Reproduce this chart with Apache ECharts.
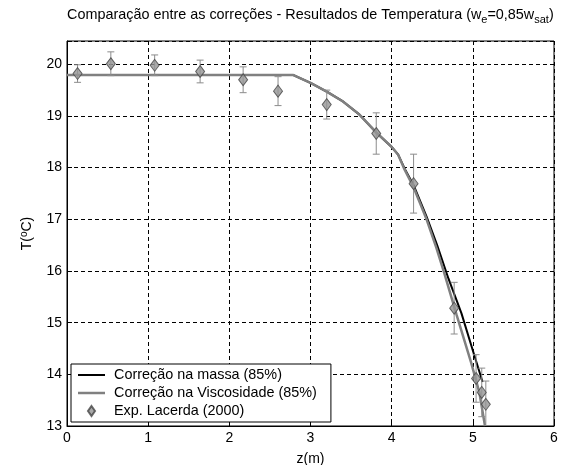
<!DOCTYPE html>
<html>
<head>
<meta charset="utf-8">
<script src="https://cdn.jsdelivr.net/npm/echarts@6/dist/echarts.min.js"></script>
<style>
html,body{margin:0;padding:0;background:#fff;}
#chart{width:570px;height:465px;}
</style>
</head>
<body>
<div id="chart"></div>
<script>
// Simulation curves
var massaX = [0, 2.79, 3.00, 3.20, 3.40, 3.60, 3.81, 4.00, 4.08, 4.16, 4.27, 4.43, 4.56, 4.70, 4.86, 5.00, 5.12];
var massaY = [19.79, 19.79, 19.64, 19.47, 19.28, 19.03, 18.68, 18.40, 18.25, 17.98, 17.66, 17.05, 16.50, 15.85, 15.18, 14.46, 13.85];
var viscX = [0, 2.79, 3.00, 3.20, 3.40, 3.60, 3.81, 4.00, 4.08, 4.16, 4.27, 4.43, 4.55, 4.65, 4.80, 4.98, 5.08, 5.15];
var viscY = [19.79, 19.79, 19.64, 19.47, 19.28, 19.03, 18.68, 18.40, 18.25, 17.96, 17.62, 17.00, 16.45, 15.95, 15.15, 14.22, 13.65, 13.00];
// Experimental data (Lacerda 2000)
var expX = [0.13, 0.54, 1.08, 1.64, 2.17, 2.60, 3.20, 3.81, 4.27, 4.77, 5.04, 5.11, 5.16];
var expY = [19.82, 20.01, 19.98, 19.86, 19.70, 19.48, 19.22, 18.66, 17.69, 15.28, 13.92, 13.65, 13.42];
var expErr = [0.17, 0.23, 0.20, 0.22, 0.25, 0.28, 0.28, 0.40, 0.57, 0.50, 0.46, 0.47, 0.45];
// Axis ticks
var xTicks = [0, 1, 2, 3, 4, 5, 6];
var yTicks = [13, 14, 15, 16, 17, 18, 19, 20];
var legendNames = ['Correção na massa (85%)', 'Correção na Viscosidade (85%)', 'Exp. Lacerda (2000)'];

var FONT = '"Liberation Sans", Arial, sans-serif';
function zip(a, b) { return a.map(function (v, i) { return [v, b[i]]; }); }
var errData = expX.map(function (x, i) { return [x, expY[i] - expErr[i], expY[i] + expErr[i]]; });

var chart = echarts.init(document.getElementById('chart'), null, {renderer: 'canvas'});
var dash = {type: [4, 3], color: '#000', width: 1};
chart.setOption({
  animation: false,
  backgroundColor: '#fff',
  textStyle: {fontFamily: FONT},
  title: {
    text: 'Comparação entre as correções - Resultados de Temperatura (w{sub|e}=0,85w{sub|sat})',
    left: 62, top: 1,
    textStyle: {
      fontFamily: FONT, fontSize: 14.4, fontWeight: 'normal', color: '#000',
      rich: {sub: {fontFamily: FONT, fontSize: 11, color: '#000', verticalAlign: 'bottom', padding: [8, 0, 0, 0]}}
    }
  },
  grid: {left: 67, right: 16, top: 41, bottom: 39, show: true, borderColor: '#000', borderWidth: 1,
    containLabel: false, outerBoundsMode: 'none'},
  legend: {
    orient: 'vertical', left: 71, top: 364,
    backgroundColor: '#fff', borderColor: '#000', borderWidth: 1,
    padding: [4, 14, 4, 7], itemGap: 4, itemWidth: 27, itemHeight: 10,
    textStyle: {fontFamily: FONT, fontSize: 14.4, color: '#000', padding: [0, 0, 0, 4]},
    data: [
      {name: legendNames[0], icon: 'path://M0,0H27V2H0Z'},
      {name: legendNames[1], icon: 'path://M0,0H27V2.5H0Z'},
      {name: legendNames[2], icon: 'path://M3.5,0L7,5L3.5,10L0,5Z'}
    ]
  },
  xAxis: {
    type: 'value', min: xTicks[0], max: xTicks[xTicks.length - 1], interval: 1,
    name: 'z(m)', nameLocation: 'middle', nameGap: 26,
    nameTextStyle: {fontFamily: FONT, fontSize: 14, color: '#000'},
    axisLine: {show: true, onZero: false, lineStyle: {color: '#000', width: 1}},
    axisTick: {show: true, inside: true, length: 5, lineStyle: {color: '#000'}},
    axisLabel: {fontFamily: FONT, fontSize: 14, color: '#000', margin: 5},
    splitLine: {show: true, lineStyle: dash}
  },
  yAxis: {
    type: 'value', min: yTicks[0], max: 20.45, interval: 1,
    name: 'T({sup|o}C)', nameLocation: 'middle', nameGap: 32, nameRotate: 90,
    nameTextStyle: {fontFamily: FONT, fontSize: 14, color: '#000',
      rich: {sup: {fontFamily: FONT, fontSize: 10, color: '#000', verticalAlign: 'top', padding: [0, 0, 6, 0]}}},
    axisLine: {show: true, onZero: false, lineStyle: {color: '#000', width: 1}},
    axisTick: {show: true, inside: true, length: 5, lineStyle: {color: '#000'}},
    axisLabel: {fontFamily: FONT, fontSize: 14, color: '#000', margin: 5,
      formatter: function (v) { return yTicks.indexOf(v) >= 0 ? String(v) : ''; }},
    splitLine: {show: true, lineStyle: dash}
  },
  series: [
    {
      name: legendNames[0], type: 'line', data: zip(massaX, massaY),
      symbol: 'none', showSymbol: false, clip: true, z: 3,
      lineStyle: {color: '#000', width: 2}, itemStyle: {color: '#000'}
    },
    {
      name: legendNames[1], type: 'line', data: zip(viscX, viscY),
      symbol: 'none', showSymbol: false, clip: true, z: 4,
      lineStyle: {color: '#808080', width: 2.5}, itemStyle: {color: '#808080'}
    },
    {
      name: 'erro', type: 'custom', data: errData, clip: true, z: 5,
      renderItem: function (params, api) {
        var x = api.value(0), lo = api.value(1), hi = api.value(2);
        var p1 = api.coord([x, hi]), p2 = api.coord([x, lo]);
        var w = 3.5, st = {stroke: '#8c8c8c', lineWidth: 1};
        return {type: 'group', children: [
          {type: 'line', shape: {x1: p1[0], y1: p1[1], x2: p2[0], y2: p2[1]}, style: st},
          {type: 'line', shape: {x1: p1[0] - w, y1: p1[1], x2: p1[0] + w, y2: p1[1]}, style: st},
          {type: 'line', shape: {x1: p2[0] - w, y1: p2[1], x2: p2[0] + w, y2: p2[1]}, style: st}
        ]};
      }
    },
    {
      name: legendNames[2], type: 'scatter', data: zip(expX, expY), z: 6,
      symbol: 'diamond', symbolSize: [9, 12], clip: true,
      itemStyle: {color: '#959595', borderColor: '#444', borderWidth: 1}
    }
  ]
});
</script>
</body>
</html>
